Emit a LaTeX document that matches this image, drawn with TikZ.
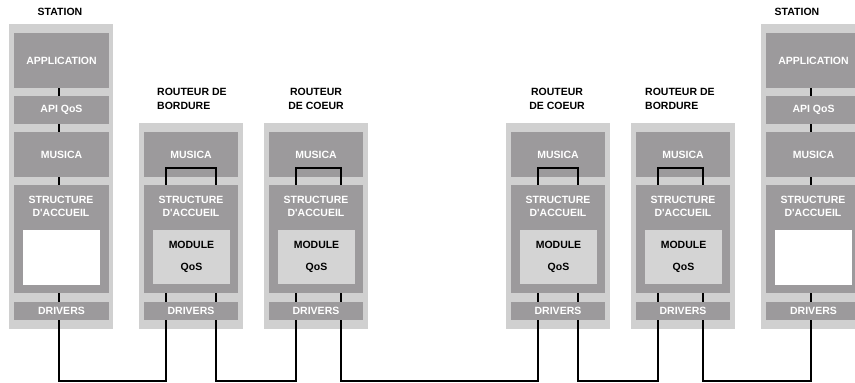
\documentclass[tikz,border=0pt]{standalone}
\usepackage{fontspec}
\setmainfont{Liberation Sans}
\pgfdeclarelayer{bg}
\pgfdeclarelayer{wires}
\pgfsetlayers{bg,wires,main}
\definecolor{frameG}{HTML}{D0D0D0}
\definecolor{layerG}{HTML}{9C9A9C}
\definecolor{modG}{HTML}{D4D4D4}
\tikzset{
  frame/.style={fill=frameG, draw=none, inner sep=0pt},
  layer/.style={fill=layerG, draw=none, inner sep=0pt, text=white,
    font=\fontsize{10.5}{13}\selectfont\bfseries, align=center},
  hole/.style={fill=white, draw=none, inner sep=0pt},
  modbox/.style={fill=modG, draw=none, inner sep=0pt, text=black,
    font=\fontsize{10.5}{13}\selectfont\bfseries, align=center},
  lbl/.style={inner sep=0pt, text=white, font=\fontsize{10.5}{13}\selectfont\bfseries, align=center},
  title/.style={inner sep=0pt, text=black, font=\fontsize{10.5}{14}\selectfont\bfseries},
  wire/.style={draw=black, line width=1.5pt, line join=miter}
}
\newcommand\blk[7]{%
  \pgfmathsetmacro\bkw{#5-(#3)}\pgfmathsetmacro\bkh{#6-(#4)}%
  \node[#1, minimum width=\bkw pt, minimum height=\bkh pt] (#2) at ({(#3+#5)/2},{(#4+#6)/2}) {#7};}
\newcommand\router[2]{%
  \begin{pgfonlayer}{bg}
    \blk{frame}{#1f}{#2}{123}{#2+104}{329}{}
    \blk{layer}{#1m}{#2+5}{132}{#2+99}{177}{MUSICA}
  \end{pgfonlayer}
  \blk{layer}{#1s}{#2+5}{185}{#2+99}{293}{}
  \node[lbl] (#1st) at ({#2+52},206.5) {STRUCTURE\\D\textquotesingle ACCUEIL};
  \blk{modbox}{#1q}{#2+14}{230}{#2+91}{284}{MODULE\\[9.5pt]QoS}
  \blk{layer}{#1d}{#2+5}{302}{#2+99}{320}{DRIVERS}}
\newcommand\station[2]{%
  \begin{pgfonlayer}{bg}
    \blk{frame}{#1f}{#2}{24}{#2+104}{329}{}
  \end{pgfonlayer}
  \blk{layer}{#1a}{#2+5}{33}{#2+100}{88}{APPLICATION}
  \blk{layer}{#1p}{#2+5}{96}{#2+100}{124}{API QoS}
  \blk{layer}{#1m}{#2+5}{132}{#2+100}{177}{MUSICA}
  \blk{layer}{#1s}{#2+5}{185}{#2+100}{293}{}
  \node[lbl] (#1st) at ({#2+52},206.5) {STRUCTURE\\D\textquotesingle ACCUEIL};
  \blk{hole}{#1w}{#2+14}{230}{#2+91}{285}{}
  \blk{layer}{#1d}{#2+5}{302}{#2+100}{320}{DRIVERS}}
\begin{document}
\begin{tikzpicture}[x=1pt,y=-1pt]
  \useasboundingbox (0,0) rectangle (855,383);
  % stations and routers
  \station{sl}{9}
  \router{ra}{139}
  \router{rb}{264}
  \router{rc}{506}
  \router{rd}{631}
  \station{sr}{761}
  % titles
  \node[title] (tsl) at (60,12) {STATION};
  \node[title] (tsr) at (797,12) {STATION};
  \node[title, anchor=west] (ta1) at (157,92) {ROUTEUR DE};
  \node[title, anchor=west] (ta2) at (157,106) {BORDURE};
  \node[title] (tb1) at (316,92) {ROUTEUR};
  \node[title] (tb2) at (316,106) {DE COEUR};
  \node[title] (tc1) at (557,92) {ROUTEUR};
  \node[title] (tc2) at (557,106) {DE COEUR};
  \node[title, anchor=west] (td1) at (645,92) {ROUTEUR DE};
  \node[title, anchor=west] (td2) at (645,106) {BORDURE};
  % wire points
  \coordinate (slw) at (59,88);
  \coordinate (srw) at (811,88);
  \coordinate (ra1) at (166,168); \coordinate (ra2) at (216,168);
  \coordinate (rb1) at (296,168); \coordinate (rb2) at (341,168);
  \coordinate (rc1) at (538,168); \coordinate (rc2) at (578,168);
  \coordinate (rd1) at (658,168); \coordinate (rd2) at (703,168);
  \begin{pgfonlayer}{wires}
    \draw[wire] (slw) -- ++(0,293) -| (ra1) -- (ra2) -- ++(0,213) -| (rb1) -- (rb2)
      -- ++(0,213) -| (rc1) -- (rc2) -- ++(0,213) -| (rd1) -- (rd2)
      -- ++(0,213) -| (srw);
  \end{pgfonlayer}
\end{tikzpicture}
\end{document}
